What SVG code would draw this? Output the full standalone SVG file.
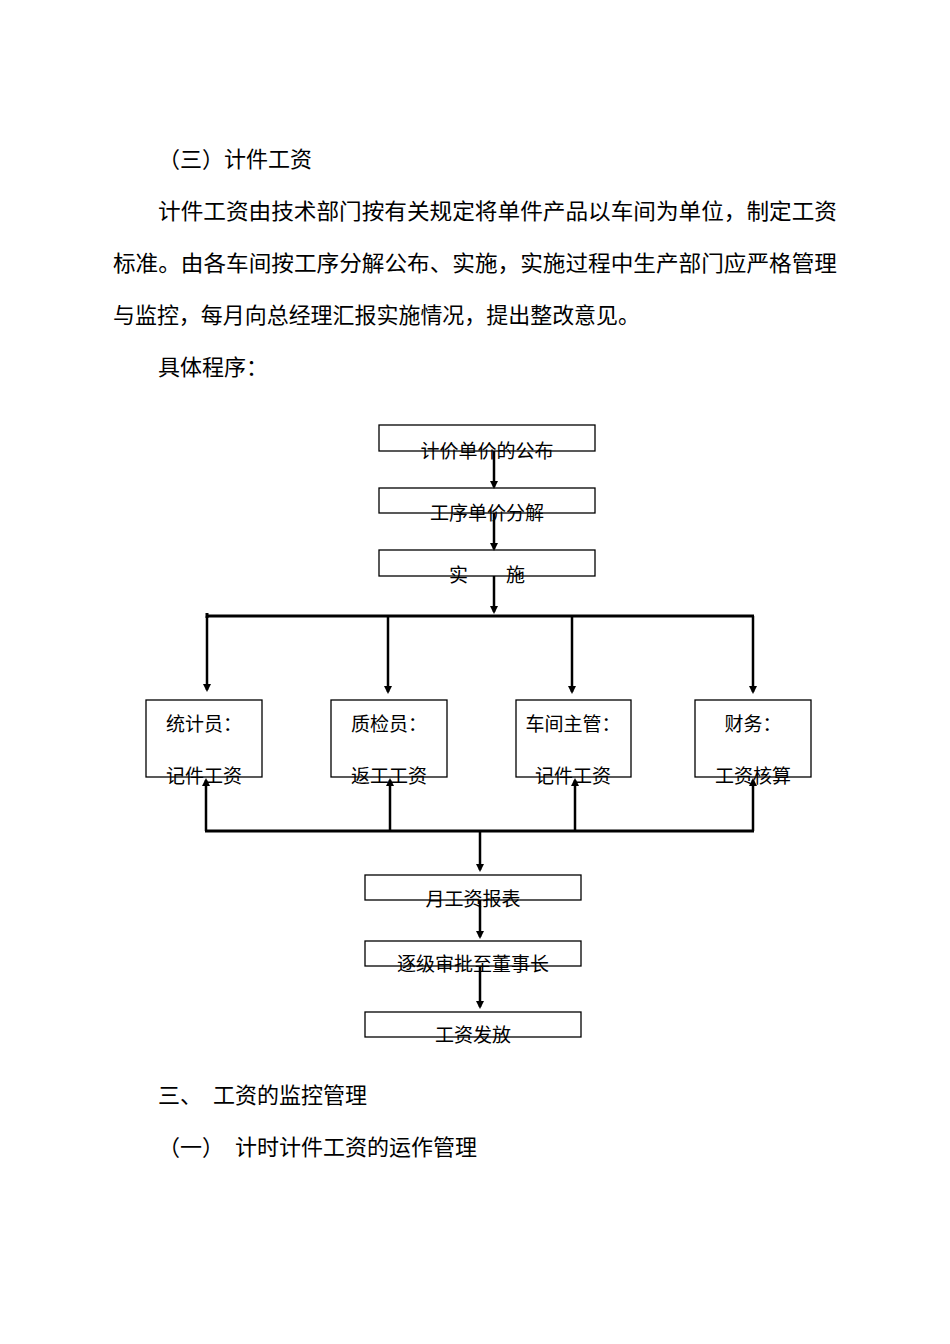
<svg xmlns="http://www.w3.org/2000/svg" width="950" height="1344" viewBox="0 0 950 1344">
<style>
.t{font-family:"Liberation Sans","Noto Sans CJK SC",sans-serif;font-size:22px;fill:#000}
.b{font-family:"Liberation Sans","Noto Sans CJK SC",sans-serif;font-size:19px;fill:#000;text-anchor:middle}
.box{fill:none;stroke:#000;stroke-width:1.3}
.ln{stroke:#000;stroke-width:3;fill:none}
.ar{stroke:#000;stroke-width:2.5;fill:none;marker-end:url(#ah)}
</style>
<defs><marker id="ah" markerWidth="8" markerHeight="8" refX="6" refY="4" orient="auto" markerUnits="userSpaceOnUse"><path d="M0,0 L8,4 L0,8 z" fill="#000"/></marker></defs>
<rect width="950" height="1344" fill="#fff"/>
<text class="t" x="158" y="167">（三）计件工资</text>
<text class="t" x="158" y="219" textLength="679" lengthAdjust="spacingAndGlyphs">计件工资由技术部门按有关规定将单件产品以车间为单位，制定工资</text>
<text class="t" x="113" y="271" textLength="724" lengthAdjust="spacingAndGlyphs">标准。由各车间按工序分解公布、实施，实施过程中生产部门应严格管理</text>
<text class="t" x="113" y="323" textLength="527" lengthAdjust="spacingAndGlyphs">与监控，每月向总经理汇报实施情况，提出整改意见。</text>
<text class="t" x="158" y="375">具体程序：</text>
<g id="connectors">
<line class="ar" x1="494" y1="451" x2="494" y2="487"/>
<line class="ar" x1="494" y1="513" x2="494" y2="549"/>
<line class="ar" x1="494" y1="576" x2="494" y2="612"/>
<line class="ln" x1="207" y1="616" x2="754" y2="616"/>
<line class="ln" x1="207" y1="613" x2="207" y2="618"/>
<line class="ar" x1="207" y1="616" x2="207" y2="690"/>
<line class="ar" x1="388" y1="616" x2="388" y2="692"/>
<line class="ar" x1="572" y1="616" x2="572" y2="692"/>
<line class="ar" x1="753" y1="616" x2="753" y2="692"/>
<line class="ln" x1="205" y1="831" x2="754" y2="831"/>
<line class="ar" x1="206" y1="831" x2="206" y2="780"/>
<line class="ar" x1="390" y1="831" x2="390" y2="780"/>
<line class="ar" x1="575" y1="831" x2="575" y2="780"/>
<line class="ar" x1="753" y1="831" x2="753" y2="780"/>
<line class="ar" x1="480" y1="831" x2="480" y2="870"/>
<line class="ar" x1="480" y1="900" x2="480" y2="937"/>
<line class="ar" x1="480" y1="966" x2="480" y2="1007"/>
</g>
<g id="n1"><rect class="box" x="379" y="425" width="216" height="26"/><text class="b" x="487" y="458">计价单价的公布</text></g>
<g id="n2"><rect class="box" x="379" y="488" width="216" height="25"/><text class="b" x="487" y="520">工序单价分解</text></g>
<g id="n3"><rect class="box" x="379" y="550" width="216" height="26"/><text class="b" x="487" y="582">实　　施</text></g>
<g id="n4"><rect class="box" x="146" y="700" width="116" height="77"/><text class="b" x="204" y="731">统计员：</text><text class="b" x="204" y="783">记件工资</text></g>
<g id="n5"><rect class="box" x="331" y="700" width="116" height="77"/><text class="b" x="389" y="731">质检员：</text><text class="b" x="389" y="783">返工工资</text></g>
<g id="n6"><rect class="box" x="516" y="700" width="115" height="77"/><text class="b" x="573" y="731">车间主管：</text><text class="b" x="573" y="783">记件工资</text></g>
<g id="n7"><rect class="box" x="695" y="700" width="116" height="77"/><text class="b" x="753" y="731">财务：</text><text class="b" x="753" y="783">工资核算</text></g>
<g id="n8"><rect class="box" x="365" y="875" width="216" height="25"/><text class="b" x="473" y="906">月工资报表</text></g>
<g id="n9"><rect class="box" x="365" y="941" width="216" height="25"/><text class="b" x="473" y="971">逐级审批至董事长</text></g>
<g id="n10"><rect class="box" x="365" y="1012" width="216" height="25"/><text class="b" x="473" y="1042">工资发放</text></g>
<text class="t" x="158" y="1103">三、　工资的监控管理</text>
<text class="t" x="158" y="1155">（一）　计时计件工资的运作管理</text>
</svg>
